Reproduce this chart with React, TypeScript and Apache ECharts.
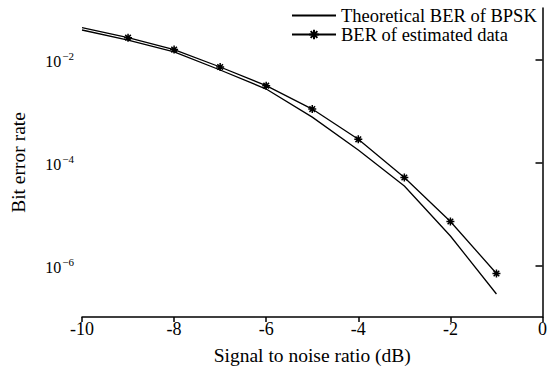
import React, { useEffect, useRef } from "react";
import * as echarts from "echarts";

const snr = [-10, -9, -8, -7, -6, -5, -4, -3, -2, -1];
const theoreticalBER = [3.74e-2, 2.39e-2, 1.4e-2, 6.25e-3, 2.67e-3, 7.6e-4, 1.75e-4, 3.5e-5, 3.74e-6, 2.8e-7];
const estimatedBER = [4.14e-2, 2.65e-2, 1.56e-2, 7.15e-3, 3.1e-3, 1.09e-3, 2.82e-4, 5.12e-5, 7.15e-6, 7.0e-7];
const yTickValues = [1e-6, 1e-4, 1e-2];
const seriesNames = ["Theoretical BER of BPSK", "BER of estimated data"];

const FONT = "'Liberation Serif', 'Times New Roman', serif";
const STAR = "path://M5,0L5,10M0,5L10,5M1.5,1.5L8.5,8.5M1.5,8.5L8.5,1.5";

export default function App() {
  const ref = useRef<HTMLDivElement>(null);
  useEffect(() => {
    if (!ref.current) return;
    const chart = echarts.init(ref.current, null, { renderer: "svg" });
    chart.setOption({
      animation: false,
      backgroundColor: "#fff",
      textStyle: { fontFamily: FONT, color: "#000" },
      grid: { left: 80, right: 6, top: 8, bottom: 55, containLabel: false },
      legend: {
        orient: "vertical",
        left: 286,
        top: 1,
        itemWidth: 44,
        itemHeight: 12,
        itemGap: 0,
        padding: 5,
        textStyle: { fontFamily: FONT, fontSize: 18.5, color: "#000", lineHeight: 18 },
        data: seriesNames,
      },
      xAxis: {
        type: "value",
        min: -10,
        max: 0,
        interval: 2,
        splitLine: { show: false },
        axisLine: { lineStyle: { color: "#000", width: 1.5 } },
        axisTick: { inside: false, length: 5, lineStyle: { color: "#000", width: 1.5 } },
        axisLabel: { fontFamily: FONT, fontSize: 18, color: "#000", margin: 3 },
        name: "Signal to noise ratio (dB)",
        nameLocation: "middle",
        nameGap: 28,
        nameTextStyle: { fontFamily: FONT, fontSize: 19.5, color: "#000" },
      },
      yAxis: {
        type: "log",
        logBase: 10,
        min: 1e-7,
        max: 1e-1,
        splitLine: { show: false },
        minorTick: { show: false },
        axisLine: { show: true, lineStyle: { color: "#000", width: 1.5 } },
        axisTick: { show: true, length: 7, customValues: yTickValues, lineStyle: { color: "#000", width: 1.5 } },
        axisLabel: {
          customValues: yTickValues,
          margin: 8,
          fontSize: 16,
          fontFamily: FONT,
          color: "#000",
          formatter: (v: number) => {
            const e = Math.round(Math.log10(v));
            return `{b|10}{s|\u2212${Math.abs(e)}}`;
          },
          rich: {
            b: { fontFamily: FONT, fontSize: 16, color: "#000", padding: [4, 1, 0, 0] },
            s: { fontFamily: FONT, fontSize: 11, color: "#000", padding: [0, 0, 8, 0] },
          },
        },
        name: "Bit error rate",
        nameLocation: "middle",
        nameGap: 54,
        nameTextStyle: { fontFamily: FONT, fontSize: 19.5, color: "#000" },
      },
      series: [
        {
          name: seriesNames[0],
          type: "line",
          data: snr.map((x, i) => [x, theoreticalBER[i]]),
          symbol: "none",
          lineStyle: { color: "#000", width: 1.3 },
          itemStyle: { color: "rgba(0,0,0,0)", borderWidth: 0 },
        },
        {
          name: seriesNames[1],
          type: "line",
          data: snr.map((x, i) => ({
            value: [x, estimatedBER[i]],
            symbol: i === 0 ? "none" : STAR,
          })),
          symbol: STAR,
          symbolSize: 8,
          showAllSymbol: true,
          lineStyle: { color: "#000", width: 1.3 },
          itemStyle: { color: "#000", borderColor: "#000", borderWidth: 1.5 },
        },
      ],
    });
    return () => chart.dispose();
  }, []);
  return <div ref={ref} style={{ position: "absolute", left: 0, top: 0, width: 550, height: 372 }} />;
}
